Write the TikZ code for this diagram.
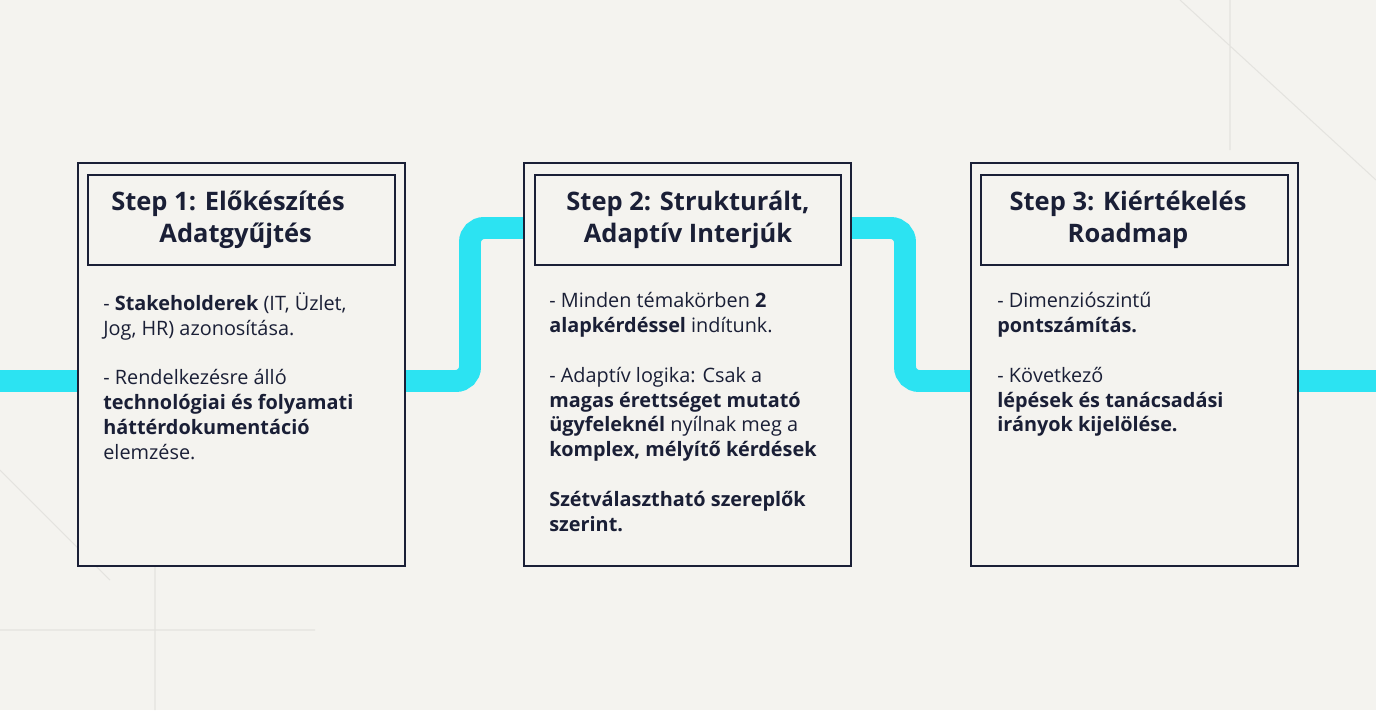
\documentclass[tikz,border=0pt]{standalone}
\usepackage{fontspec}
\setmainfont{Open Sans}
\usepackage{xcolor}
\usetikzlibrary{positioning}
\definecolor{bgpaper}{HTML}{F4F3EF}
\definecolor{navy}{HTML}{1A1F36}
\definecolor{flow}{HTML}{2CE3F2}
\definecolor{faint}{HTML}{E4E3DF}

\begin{document}
\begin{tikzpicture}[x=0.02cm,y=-0.02cm,
    stepbox/.style={draw=navy,line width=1.4pt,fill=bgpaper},
    titlebox/.style={draw=navy,line width=1.4pt},
    steptitle/.style={align=center,text=navy,font=\fontsize{14.5}{18.2}\selectfont\bfseries},
    stepbody/.style={anchor=north west,align=left,text=navy,inner sep=0pt,
      font=\fontsize{11.3}{14.2}\selectfont}]
    % Background
    \fill[bgpaper] (0,0) rectangle (1376,710);
    \useasboundingbox (0,0) rectangle (1376,710);
    \draw[faint,line width=0.6pt] (1180,0) -- (1376,180) (1230,0) -- (1230,150) (0,470) -- (110,580) (0,630) -- (315,630) (155,560) -- (155,710);

    % Flow line
    \draw[flow,line width=12.5pt,rounded corners=8pt] (0,381) -- (470,381) -- (470,228) -- (905,228) -- (905,381) -- (1376,381);

    % Step boxes
    \draw[stepbox] (78,163) rectangle (405,566);
    \draw[stepbox] (524,163) rectangle (851,566);
    \draw[stepbox] (971,163) rectangle (1298,566);
    \draw[titlebox] (88,175) rectangle (395,265);
    \draw[titlebox] (535,175) rectangle (841,265);
    \draw[titlebox] (981,175) rectangle (1288,265);

    % Titles
    \node[steptitle] (t1) at (228,220) {Step 1: Előkészítés\\ \hspace*{0.6em}Adatgyűjtés};
    \node[steptitle] (t2) at (688,220) {Step 2: Strukturált,\\ Adaptív Interjúk};
    \node[steptitle] (t3) at (1128,220) {Step 3: Kiértékelés\\ Roadmap};

    % Bodies
    \node[stepbody] (b1) at (103,292) {- \textbf{Stakeholderek} (IT, Üzlet,\\ Jog, HR) azonosítása.\\[14pt]
      - Rendelkezésre álló\\ \textbf{technológiai és folyamati}\\ \textbf{háttérdokumentáció}\\ elemzése.};
    \node[stepbody] (b2) at (549,292) {- Minden témakörben \textbf{2}\\ \textbf{alapkérdéssel} indítunk.\\[14pt]
      - Adaptív logika: Csak a\\ \textbf{magas érettséget mutató}\\ \textbf{ügyfeleknél} nyílnak meg a\\ \textbf{komplex, mélyítő kérdések}\\[14pt]
      \textbf{Szétválasztható szereplők}\\ \textbf{szerint.}};
    \node[stepbody] (b3) at (997,292) {- Dimenziószintű\\ \textbf{pontszámítás.}\\[14pt]
      - Következő\\ \textbf{lépések és tanácsadási}\\ \textbf{irányok kijelölése.}};
\end{tikzpicture}
\end{document}
